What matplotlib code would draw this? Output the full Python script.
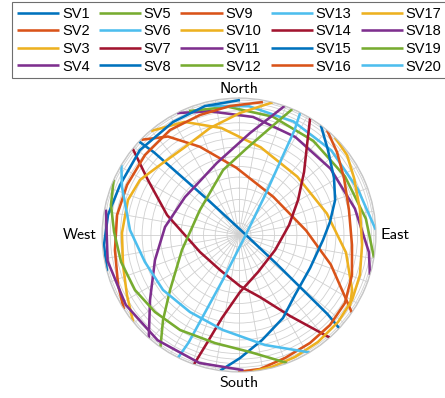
import numpy as np
import matplotlib
matplotlib.use("Agg")
import matplotlib.pyplot as plt

# Sky tracks: azimuth (deg, clockwise from North) and elevation (deg)
sv1_az = [313.1, 314.2, 318.5, 43, 127.5, 131.8, 132.9]
sv1_el = [4, 30, 69.9, 88, 69.9, 30, 4]
sv2_az = [314.3, 324.2, 336.1, 357.8, 42, 86.2, 107.9, 119.8, 124.5]
sv2_el = [5.6, 27.6, 45.2, 60.6, 68, 60.6, 45.2, 27.6, 2]
sv3_az = [319.8, 334.2, 350.7, 13.8, 45, 76.2, 99.3, 115.8, 122.6]
sv3_el = [6.4, 23.5, 37.7, 48.7, 53, 48.7, 37.7, 23.5, 15.9]
sv4_az = [333, 346.5, 6.8, 29.9, 54.1, 77.2, 97.5, 107]
sv4_el = [3, 21.7, 29.8, 34.4, 34.4, 29.8, 17, 2]
sv5_az = [338, 355.2, 16, 38.3, 61, 82.7, 99.6]
sv5_el = [12.7, 20.1, 26.1, 28.9, 27.9, 21, 2]
sv6_az = [346.6, 4.5, 25.7, 47.5, 69, 87.8]
sv6_el = [14.2, 19.5, 23.2, 23.9, 21.6, 3]
sv7_az = [309.1, 301.1, 285.5, 246.4, 208.5, 178.9, 161.3, 147.8, 138.5]
sv7_el = [1, 39.1, 57, 71.9, 73.1, 68.1, 61.4, 45.7, 1]
sv8_az = [36.7, 46.3, 59, 70, 81.9, 93.4, 114.9, 137, 152.1, 167.6, 179.5, 187.9]
sv8_el = [2, 26.1, 36, 41.7, 47.9, 52.1, 55.1, 53.2, 46.7, 38.3, 26.1, 1]
sv9_az = [40, 49.7, 61.5, 77.2, 95.1, 109.5, 122.7, 134.7, 146.7, 159.5, 171.1, 180.4]
sv9_el = [2, 20.4, 29.3, 34.6, 34.1, 29, 23.2, 20.9, 19.4, 16.6, 8, 1]
sv10_az = [44.4, 53.5, 63.6, 78.3, 94.6, 108.3, 119.9, 131.3, 143.6, 155.3, 166, 174.2]
sv10_el = [2, 11.2, 20.4, 25.6, 25.7, 21.6, 17.8, 15.8, 13.9, 11.6, 6.8, 1]
sv11_az = [19.5, 6.2, 343, 305.1, 276.2, 253.4, 233.9, 221.2]
sv11_el = [1, 41.5, 56.6, 61.2, 57.1, 50.2, 36.5, 1]
sv12_az = [23, 16.2, 4.7, 346.2, 302.7, 255.3, 231.4, 221.8, 215]
sv12_el = [2, 35.6, 50.9, 60.8, 70.2, 64.5, 49.9, 33.7, 1]
sv13_az = [26.6, 27.9, 33.3, 116.5, 199.7, 205.1, 206.4]
sv13_el = [3, 30, 69.9, 87.5, 69.9, 30, 3]
sv14_az = [31.3, 37.1, 45.9, 59.3, 78.7, 112.6, 152.8, 179, 191.6, 196.5, 199.2]
sv14_el = [2, 34.6, 48.6, 59.9, 68.1, 73.4, 72.3, 65.4, 51.8, 34.7, 1]
sv15_az = [0.4, 345.2, 329.7, 310.6, 292.8, 278.7, 265.8, 254.6]
sv15_el = [9.9, 13.2, 17.2, 17.7, 19.6, 14.7, 8.9, 1]
sv16_az = [10.2, 356, 342, 326.7, 310.4, 294.1, 279.3, 263.1, 247.5, 237.1]
sv16_el = [9.6, 19.3, 22.9, 23.5, 25.7, 26.5, 25.6, 24.2, 17.2, 1]
sv17_az = [14.3, 0.5, 344.8, 328.5, 311.5, 299.1, 287.5, 271, 255.5, 241.8, 230.6]
sv17_el = [1, 27, 36, 41.1, 39.6, 34.2, 31.8, 31.3, 29, 21.9, 1]
sv18_az = [178.1, 197.2, 217.7, 238.3, 258.8, 280.8]
sv18_el = [9.1, 12.1, 13.8, 13.8, 12.1, 8.6]
sv19_az = [293.8, 283.2, 271.4, 257.1, 242.1, 227.5, 211.8, 192.5, 174.6, 159.4]
sv19_el = [1, 16.3, 24.2, 28, 30.8, 33.7, 35.3, 36.1, 30.9, 3.6]
sv20_az = [300.8, 292.3, 272.6, 254, 234.1, 212.5, 189.6, 166.7, 149]
sv20_el = [1, 22.6, 37.2, 44.4, 46.8, 48.2, 45.3, 34.4, 1]

sv_labels = [f"SV{i}" for i in range(1, 21)]
tracks = [
    (sv1_az, sv1_el), (sv2_az, sv2_el), (sv3_az, sv3_el), (sv4_az, sv4_el),
    (sv5_az, sv5_el), (sv6_az, sv6_el), (sv7_az, sv7_el), (sv8_az, sv8_el),
    (sv9_az, sv9_el), (sv10_az, sv10_el), (sv11_az, sv11_el), (sv12_az, sv12_el),
    (sv13_az, sv13_el), (sv14_az, sv14_el), (sv15_az, sv15_el), (sv16_az, sv16_el),
    (sv17_az, sv17_el), (sv18_az, sv18_el), (sv19_az, sv19_el), (sv20_az, sv20_el),
]

color_cycle = ["#0072BD", "#D95319", "#EDB120", "#7E2F8E",
               "#77AC30", "#4DBEEE", "#A2142F"]

W, H = 445, 398
fig = plt.figure(figsize=(W / 100, H / 100), dpi=100)

cx, cy, R = 239, 235, 137
ax = fig.add_axes([(cx - R) / W, (H - cy - R) / H, 2 * R / W, 2 * R / H],
                  projection="polar")
ax.set_theta_zero_location("N")
ax.set_theta_direction(-1)


# radial coordinate is the zenith angle; the sky dome is seen orthographically
def _fwd(z):
    return np.sin(np.radians(np.clip(z, 0, 90)))


def _inv(s):
    return np.degrees(np.arcsin(np.clip(s, 0, 1)))


ax.set_rscale("function", functions=(_fwd, _inv))
ax.set_rlim(0, 90)
ax.set_rgrids(np.arange(5, 90, 5), labels=[])
ax.set_thetagrids(np.arange(0, 360, 10), labels=[])
ax.grid(True, color="#d0d0d0", linewidth=0.6)
ax.spines["polar"].set_color("#c4c4c4")
ax.spines["polar"].set_linewidth(0.8)
ax.tick_params(length=0)

handles = []
for i, (az, el) in enumerate(tracks):
    theta = np.unwrap(np.radians(az))
    zen = 90 - np.asarray(el, dtype=float)
    (ln,) = ax.plot(theta, zen, color=color_cycle[i % 7], linewidth=1.85,
                    solid_capstyle="butt", solid_joinstyle="round",
                    label=sv_labels[i])
    handles.append(ln)

lab_font = dict(family="cmss10", fontsize=11.5, color="black")
fig.text(cx / W, 1 - 89 / H, "North", ha="center", va="center", **lab_font)
fig.text(cx / W, 1 - 383 / H, "South", ha="center", va="center", **lab_font)
fig.text(97 / W, 1 - 235 / H, "West", ha="right", va="center", **lab_font)
fig.text(381 / W, 1 - 235 / H, "East", ha="left", va="center", **lab_font)

leg = fig.legend(handles, sv_labels, ncol=5, loc="upper left",
                 bbox_to_anchor=(12 / W, 1 - 2 / H), bbox_transform=fig.transFigure,
                 borderaxespad=0, frameon=True, fancybox=False, framealpha=1,
                 edgecolor="#6e6e6e", prop=dict(family="Liberation Sans", size=10.5),
                 handlelength=2.9, handletextpad=0.2, columnspacing=0.62,
                 labelspacing=0.25, borderpad=0.32)
leg.get_frame().set_linewidth(0.8)
for lh in leg.get_lines():
    lh.set_linewidth(1.85)

fig.savefig("out.png", dpi=100)
